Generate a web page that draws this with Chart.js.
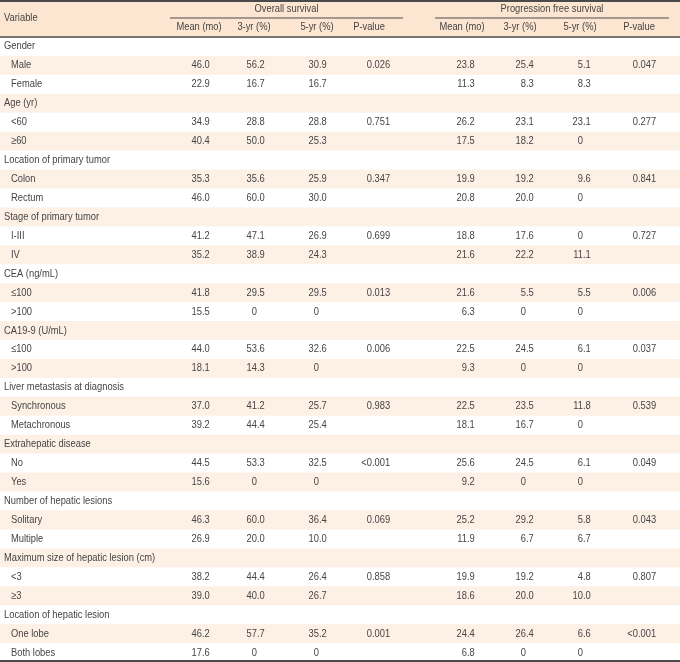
<!DOCTYPE html>
<html>
<head>
<meta charset="utf-8">
<title>Survival by variable</title>
<script src="https://cdn.jsdelivr.net/npm/chart.js@4/dist/chart.umd.min.js"></script>
<style>
    html, body { margin: 0; padding: 0; background: #ffffff; }
    #wrap { width: 680px; height: 662px; }
</style>
</head>
<body>
<div id="wrap"><canvas id="tableChart" width="680" height="662"></canvas></div>
<script>
// Table data, one entry per row (null = group heading row)
const rowLabels = [
    'Gender', 'Male', 'Female',
    'Age (yr)', '<60', '\u226560',
    'Location of primary tumor', 'Colon', 'Rectum',
    'Stage of primary tumor', 'I-III', 'IV',
    'CEA (ng/mL)', '\u2264100', '>100',
    'CA19-9 (U/mL)', '\u2264100', '>100',
    'Liver metastasis at diagnosis', 'Synchronous', 'Metachronous',
    'Extrahepatic disease', 'No', 'Yes',
    'Number of hepatic lesions', 'Solitary', 'Multiple',
    'Maximum size of hepatic lesion (cm)', '<3', '\u22653',
    'Location of hepatic lesion', 'One lobe', 'Both lobes'
];

const osMean = [null, '46.0', '22.9', null, '34.9', '40.4', null, '35.3', '46.0', null, '41.2', '35.2', null, '41.8', '15.5', null, '44.0', '18.1', null, '37.0', '39.2', null, '44.5', '15.6', null, '46.3', '26.9', null, '38.2', '39.0', null, '46.2', '17.6'];
const os3yr = [null, '56.2', '16.7', null, '28.8', '50.0', null, '35.6', '60.0', null, '47.1', '38.9', null, '29.5', '0', null, '53.6', '14.3', null, '41.2', '44.4', null, '53.3', '0', null, '60.0', '20.0', null, '44.4', '40.0', null, '57.7', '0'];
const os5yr = [null, '30.9', '16.7', null, '28.8', '25.3', null, '25.9', '30.0', null, '26.9', '24.3', null, '29.5', '0', null, '32.6', '0', null, '25.7', '25.4', null, '32.5', '0', null, '36.4', '10.0', null, '26.4', '26.7', null, '35.2', '0'];
const osPValue = [null, '0.026', '', null, '0.751', '', null, '0.347', '', null, '0.699', '', null, '0.013', '', null, '0.006', '', null, '0.983', '', null, '<0.001', '', null, '0.069', '', null, '0.858', '', null, '0.001', ''];

const pfsMean = [null, '23.8', '11.3', null, '26.2', '17.5', null, '19.9', '20.8', null, '18.8', '21.6', null, '21.6', '6.3', null, '22.5', '9.3', null, '22.5', '18.1', null, '25.6', '9.2', null, '25.2', '11.9', null, '19.9', '18.6', null, '24.4', '6.8'];
const pfs3yr = [null, '25.4', '8.3', null, '23.1', '18.2', null, '19.2', '20.0', null, '17.6', '22.2', null, '5.5', '0', null, '24.5', '0', null, '23.5', '16.7', null, '24.5', '0', null, '29.2', '6.7', null, '19.2', '20.0', null, '26.4', '0'];
const pfs5yr = [null, '5.1', '8.3', null, '23.1', '0', null, '9.6', '0', null, '0', '11.1', null, '5.5', '0', null, '6.1', '0', null, '11.8', '0', null, '6.1', '0', null, '5.8', '6.7', null, '4.8', '10.0', null, '6.6', '0'];
const pfsPValue = [null, '0.047', '', null, '0.277', '', null, '0.841', '', null, '0.727', '', null, '0.006', '', null, '0.037', '', null, '0.539', '', null, '0.049', '', null, '0.043', '', null, '0.807', '', null, '<0.001', ''];

const groupHeaders = ['Overall survival', 'Progression free survival'];
const columnHeaders = ['Mean (mo)', '3-yr (%)', '5-yr (%)', 'P-value'];
const firstHeader = 'Variable';

// Layout (x in canvas px units, y in row units)
const FONT = '11px "Liberation Sans", Arial, sans-serif';
const SQUEEZE = 0.85; // condensed look
const TEXT_COLOR = '#454545';
const LINE_COLOR = '#4a4a4a';
const HEADER_BG = '#fce5d1';
const STRIPE_BG = '#fdf1e6';
const HEADER_TOP = -1.95;

const columns = [
    { values: osMean, header: 199, decimal: 202 },
    { values: os3yr, header: 254, decimal: 257 },
    { values: os5yr, header: 317, decimal: 319 },
    { values: osPValue, header: 369, decimal: 372 },
    { values: pfsMean, header: 462, decimal: 467 },
    { values: pfs3yr, header: 520, decimal: 526 },
    { values: pfs5yr, header: 580, decimal: 583 },
    { values: pfsPValue, header: 639, decimal: 638 }
];
const groupSpans = [[170, 403], [435, 669]];

/**
 * Draw horizontally squeezed text
 */
function drawText(ctx, text, x, y, align) {
    ctx.save();
    ctx.translate(x, y);
    ctx.scale(SQUEEZE, 1);
    ctx.textAlign = align;
    ctx.fillText(text, 0, 0);
    ctx.restore();
}

/**
 * Draw a number so that its decimal point sits on a fixed x
 * @param {CanvasRenderingContext2D} ctx
 * @param {string} text - value as printed
 * @param {number} x - pixel x of the decimal point
 * @param {number} y - pixel y (middle)
 */
function drawDecimal(ctx, text, x, y) {
    const dot = text.indexOf('.');
    const intPart = dot >= 0 ? text.slice(0, dot) : text;
    const fracPart = dot >= 0 ? text.slice(dot) : '';
    drawText(ctx, intPart, x, y, 'right');
    if (fracPart) {
        drawText(ctx, fracPart, x, y, 'left');
    }
}

/**
 * Horizontal rule helper
 */
function hLine(ctx, x1, x2, y, width) {
    ctx.beginPath();
    ctx.lineWidth = width;
    ctx.strokeStyle = LINE_COLOR;
    ctx.moveTo(x1, y);
    ctx.lineTo(x2, y);
    ctx.stroke();
}

const tablePlugin = {
    id: 'tablePlugin',
    beforeDatasetsDraw(chart) {
        const ctx = chart.ctx;
        const xs = chart.scales.x;
        const ys = chart.scales.y;
        const left = xs.getPixelForValue(0);
        const right = xs.getPixelForValue(680);

        ctx.save();
        // header background
        const hTop = ys.getPixelForValue(HEADER_TOP);
        const hBottom = ys.getPixelForValue(0);
        ctx.fillStyle = HEADER_BG;
        ctx.fillRect(left, hTop, right - left, hBottom - hTop);

        // striped rows
        ctx.fillStyle = STRIPE_BG;
        rowLabels.forEach((label, i) => {
            if (i % 2 === 1) {
                const top = ys.getPixelForValue(i);
                const bottom = ys.getPixelForValue(i + 1);
                ctx.fillRect(left, top, right - left, bottom - top);
            }
        });

        // rules
        hLine(ctx, left, right, hTop + 1, 2);
        hLine(ctx, left, right, hBottom, 1.5);
        groupSpans.forEach(span => {
            hLine(ctx, xs.getPixelForValue(span[0]), xs.getPixelForValue(span[1]), ys.getPixelForValue(-1), 1);
        });
        hLine(ctx, left, right, ys.getPixelForValue(rowLabels.length) - 1, 2);
        ctx.restore();
    },
    afterDatasetsDraw(chart) {
        const ctx = chart.ctx;
        const xs = chart.scales.x;
        const ys = chart.scales.y;

        ctx.save();
        ctx.font = FONT;
        ctx.fillStyle = TEXT_COLOR;
        ctx.textBaseline = 'middle';

        // header texts
        drawText(ctx, firstHeader, xs.getPixelForValue(4), ys.getPixelForValue((HEADER_TOP + 0) / 2), 'left');
        groupHeaders.forEach((title, g) => {
            const mid = (groupSpans[g][0] + groupSpans[g][1]) / 2;
            drawText(ctx, title, xs.getPixelForValue(mid), ys.getPixelForValue((HEADER_TOP - 1) / 2), 'center');
        });
        columns.forEach((col, c) => {
            drawText(ctx, columnHeaders[c % 4], xs.getPixelForValue(col.header), ys.getPixelForValue(-0.5), 'center');
        });

        // body
        rowLabels.forEach((label, i) => {
            const y = ys.getPixelForValue(i + 0.5);
            const isGroup = osMean[i] === null;
            drawText(ctx, label, xs.getPixelForValue(isGroup ? 4 : 11), y, 'left');
            if (isGroup) return;
            columns.forEach(col => {
                const v = col.values[i];
                if (v) drawDecimal(ctx, v, xs.getPixelForValue(col.decimal), y);
            });
        });
        ctx.restore();
    }
};

const ctx = document.getElementById('tableChart').getContext('2d');
new Chart(ctx, {
    type: 'scatter',
    data: { datasets: [{ data: [], pointRadius: 0 }] },
    options: {
        responsive: false,
        animation: false,
        layout: { padding: 0 },
        plugins: { legend: { display: false }, tooltip: { enabled: false } },
        scales: {
            x: { type: 'linear', min: 0, max: 680, display: false },
            y: { type: 'linear', min: HEADER_TOP, max: rowLabels.length, reverse: true, display: false }
        }
    },
    plugins: [tablePlugin]
});
</script>
</body>
</html>
